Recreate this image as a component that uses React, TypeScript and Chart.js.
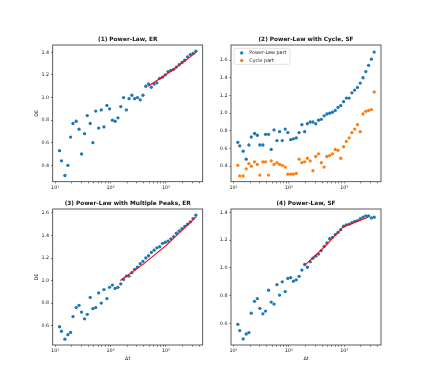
import React, { useEffect, useRef } from 'react';
import { Chart, registerables } from 'chart.js';

Chart.register(...registerables);

// ---------- data ----------
const dt = [
  12, 13, 15, 17, 19, 21, 24, 27, 30, 34,
  38, 43, 48, 54, 61, 68, 76, 86, 96, 108,
  121, 136, 153, 172, 193, 216, 243, 272, 306, 343,
  385, 433, 486, 545, 612, 687, 771, 866, 972, 1091,
  1225, 1374, 1542, 1732, 1944, 2182, 2449, 2749, 3086, 3467,
];

const p1DE = [
  0.53, 0.44, 0.31, 0.40, 0.65, 0.77, 0.79, 0.72, 0.50, 0.68,
  0.84, 0.77, 0.60, 0.88, 0.73, 0.89, 0.74, 0.93, 0.90, 0.80,
  0.79, 0.82, 0.92, 1.00, 0.89, 0.99, 1.02, 0.99, 1.00, 0.98,
  1.02, 1.10, 1.12, 1.09, 1.12, 1.13, 1.17, 1.18, 1.20, 1.23,
  1.24, 1.25, 1.27, 1.29, 1.31, 1.33, 1.36, 1.38, 1.39, 1.41,
];
const p1FitDt = [480, 1250, 3500];
const p1FitDE = [1.10, 1.235, 1.40];

const p2PowerLaw = [
  0.67, 0.63, 0.57, 0.48, 0.64, 0.73, 0.77, 0.75, 0.64, 0.64,
  0.76, 0.76, 0.59, 0.81, 0.69, 0.79, 0.69, 0.82, 0.78, 0.70,
  0.71, 0.72, 0.78, 0.87, 0.79, 0.88, 0.90, 0.90, 0.88, 0.92,
  0.93, 0.97, 0.99, 1.00, 1.01, 1.03, 1.065, 1.085, 1.13, 1.17,
  1.17, 1.23, 1.26, 1.29, 1.34, 1.40, 1.47, 1.54, 1.61, 1.69,
];
const p2Cycle = [
  0.41, 0.29, 0.29, 0.37, 0.43, 0.40, 0.45, 0.42, 0.30, 0.45,
  0.45, 0.30, 0.46, 0.42, 0.44, 0.42, 0.41, 0.39, 0.31, 0.31,
  0.31, 0.32, 0.48, 0.44, 0.45, 0.49, 0.46, 0.35, 0.51, 0.54,
  0.44, 0.39, 0.51, 0.52, 0.54, 0.59, 0.58, 0.49, 0.62, 0.68,
  0.72, 0.78, 0.82, 0.87, 0.79, 0.99, 1.02, 1.03, 1.04, 1.24,
];

const p3DE = [
  0.59, 0.55, 0.48, 0.52, 0.54, 0.68, 0.76, 0.78, 0.72, 0.66,
  0.70, 0.85, 0.75, 0.76, 0.89, 0.80, 0.92, 0.84, 0.94, 0.96,
  0.93, 0.94, 0.97, 1.01, 1.04, 1.04, 1.07, 1.10, 1.12, 1.15,
  1.17, 1.20, 1.22, 1.25, 1.27, 1.29, 1.30, 1.33, 1.34, 1.35,
  1.37, 1.39, 1.42, 1.44, 1.46, 1.48, 1.50, 1.52, 1.55, 1.58,
];
const p3FitDt = [150, 400, 1000, 3500];
const p3FitDE = [1.00, 1.15, 1.31, 1.565];

const p4DE = [
  0.595, 0.55, 0.49, 0.525, 0.535, 0.675, 0.76, 0.78, 0.71, 0.67,
  0.69, 0.84, 0.755, 0.74, 0.88, 0.805, 0.90, 0.83, 0.925, 0.93,
  0.905, 0.915, 0.94, 0.985, 1.025, 1.005, 1.045, 1.07, 1.085, 1.10,
  1.125, 1.155, 1.18, 1.21, 1.22, 1.24, 1.255, 1.275, 1.30, 1.31,
  1.315, 1.325, 1.335, 1.34, 1.355, 1.365, 1.375, 1.375, 1.36, 1.365,
];
const p4FitDt = [194, 450, 950, 2700];
const p4FitDE = [1.02, 1.155, 1.295, 1.365];

const xTickValues = [
  10, 20, 30, 40, 50, 60, 70, 80, 90,
  100, 200, 300, 400, 500, 600, 700, 800, 900,
  1000, 2000, 3000, 4000,
];
const xMajorValues = [10, 100, 1000];
const xMajorLabels = ['10¹', '10²', '10³'];

const yTicks1 = [0.4, 0.6, 0.8, 1.0, 1.2, 1.4];
const yTicks2 = [0.4, 0.6, 0.8, 1.0, 1.2, 1.4, 1.6];
const yTicks3 = [0.6, 0.8, 1.0, 1.2, 1.4, 1.6];
const yTicks4 = [0.6, 0.8, 1.0, 1.2, 1.4];

const titles = [
  '(1) Power-Law, ER',
  '(2) Power-Law with Cycle, SF',
  '(3) Power-Law with Multiple Peaks, ER',
  '(4) Power-Law, SF',
];
const seriesLabels = ['Power-Law part', 'Cycle part'];

// ---------- style ----------
const FONT = 'DejaVu Sans';
const BLUE = '#1f77b4';
const ORANGE = '#ff7f0e';
const RED = '#ff0000';
const TEXT = '#222222';
const X_MIN = 9.04;
const X_MAX = 4605;
const MARKER_R = 1.65;

const pts = (xs: number[], ys: number[]) => xs.map((x, i) => ({ x, y: ys[i] }));

const scatterSet = (label: string, ys: number[], color: string) => ({
  label,
  data: pts(dt, ys),
  backgroundColor: color,
  borderColor: color,
  pointRadius: MARKER_R,
  pointBorderWidth: 0,
  showLine: false,
  order: 1,
});

const fitSet = (xs: number[], ys: number[]) => ({
  label: 'fit',
  data: pts(xs, ys),
  borderColor: RED,
  backgroundColor: RED,
  borderWidth: 1.1,
  pointRadius: 0,
  showLine: true,
  fill: false,
  tension: 0,
  order: 0,
});

const framePlugin = {
  id: 'frame',
  afterDraw(chart: any) {
    const { ctx, chartArea } = chart;
    const { left, top, right, bottom } = chartArea;
    ctx.save();
    ctx.strokeStyle = '#333333';
    ctx.lineWidth = 0.8;
    ctx.strokeRect(left, top, right - left, bottom - top);
    ctx.restore();
  },
};

const insideLegendPlugin = {
  id: 'insideLegend',
  afterDatasetsDraw(chart: any, _args: any, opts: any) {
    if (!opts || !opts.display) return;
    const { ctx, chartArea } = chart;
    const x0 = chartArea.left + 3;
    const y0 = chartArea.top + 3.3;
    const w = 56;
    const h = 16;
    const r = 1.5;
    ctx.save();
    ctx.beginPath();
    ctx.moveTo(x0 + r, y0);
    ctx.lineTo(x0 + w - r, y0);
    ctx.arcTo(x0 + w, y0, x0 + w, y0 + r, r);
    ctx.lineTo(x0 + w, y0 + h - r);
    ctx.arcTo(x0 + w, y0 + h, x0 + w - r, y0 + h, r);
    ctx.lineTo(x0 + r, y0 + h);
    ctx.arcTo(x0, y0 + h, x0, y0 + h - r, r);
    ctx.lineTo(x0, y0 + r);
    ctx.arcTo(x0, y0, x0 + r, y0, r);
    ctx.closePath();
    ctx.fillStyle = 'rgba(255,255,255,0.8)';
    ctx.fill();
    ctx.strokeStyle = '#cccccc';
    ctx.lineWidth = 0.6;
    ctx.stroke();
    chart.data.datasets.forEach((ds: any, i: number) => {
      const cy = y0 + 4.6 + i * 7.6;
      ctx.fillStyle = ds.backgroundColor;
      ctx.beginPath();
      ctx.arc(x0 + 7.7, cy, MARKER_R, 0, Math.PI * 2);
      ctx.fill();
      ctx.fillStyle = TEXT;
      ctx.font = `4.85px "${FONT}"`;
      ctx.textBaseline = 'middle';
      ctx.textAlign = 'left';
      ctx.fillText(ds.label, x0 + 15.3, cy);
    });
    ctx.restore();
  },
};

type PanelSpec = {
  title: string;
  left: number;
  top: number;
  width: number;
  height: number;
  yWidth: number;
  padRight: number;
  padBottom: number;
  yMin: number;
  yMax: number;
  yTicks: number[];
  yTitle: boolean;
  xTitle: boolean;
  legend: boolean;
  datasets: any[];
};

const gridOpts = {
  display: true,
  drawOnChartArea: false,
  drawTicks: true,
  tickLength: 1.7,
  tickColor: '#333333',
  tickWidth: 0.6,
};

function buildConfig(p: PanelSpec): any {
  return {
    type: 'scatter',
    data: { datasets: p.datasets },
    options: {
      animation: false,
      responsive: false,
      devicePixelRatio: 1,
      events: [],
      layout: { padding: { left: 0, top: 0, right: p.padRight, bottom: p.padBottom } },
      plugins: {
        legend: { display: false },
        tooltip: { enabled: false },
        title: {
          display: true,
          text: p.title,
          fullSize: false,
          color: '#111111',
          font: { family: FONT, size: 5.8, weight: 'bold' },
          padding: { top: 10.22, bottom: 1.82 },
        },
        insideLegend: { display: p.legend },
      },
      scales: {
        x: {
          type: 'logarithmic',
          min: X_MIN,
          max: X_MAX,
          bounds: 'data',
          afterFit: (s: any) => {
            s.height = 20;
          },
          afterBuildTicks: (s: any) => {
            s.ticks = xTickValues.map((v) => ({ value: v }));
          },
          ticks: {
            autoSkip: false,
            maxRotation: 0,
            minRotation: 0,
            padding: 1.3,
            color: TEXT,
            font: { family: FONT, size: 4.85 },
            callback: (v: any) => {
              const i = xMajorValues.indexOf(Number(v));
              return i >= 0 ? xMajorLabels[i] : '';
            },
          },
          grid: gridOpts,
          border: { display: false },
          title: {
            display: p.xTitle,
            text: 'Δt',
            color: TEXT,
            font: { family: FONT, size: 4.85 },
            padding: { top: 0, bottom: 3.3 },
          },
        },
        y: {
          type: 'linear',
          min: p.yMin,
          max: p.yMax,
          bounds: 'data',
          afterFit: (s: any) => {
            s.width = p.yWidth;
          },
          afterBuildTicks: (s: any) => {
            s.ticks = p.yTicks.map((v) => ({ value: v }));
          },
          ticks: {
            autoSkip: false,
            padding: 1.8,
            color: TEXT,
            font: { family: FONT, size: 4.85 },
            callback: (v: any) => Number(v).toFixed(1),
          },
          grid: gridOpts,
          border: { display: false },
          title: {
            display: p.yTitle,
            text: 'DE',
            color: TEXT,
            font: { family: FONT, size: 4.85 },
            padding: { top: 10.3, bottom: 0 },
          },
        },
      },
    },
    plugins: [framePlugin, insideLegendPlugin],
  };
}

const panels: PanelSpec[] = [
  {
    title: titles[0], left: 24, top: 26, width: 188, height: 178,
    yWidth: 28.7, padRight: 9.3, padBottom: 2.3,
    yMin: 0.255, yMax: 1.465, yTicks: yTicks1,
    yTitle: true, xTitle: false, legend: false,
    datasets: [fitSet(p1FitDt, p1FitDE), scatterSet('DE', p1DE, BLUE)],
  },
  {
    title: titles[1], left: 203, top: 26, width: 187, height: 178,
    yWidth: 28, padRight: 9, padBottom: 2.3,
    yMin: 0.225, yMax: 1.77, yTicks: yTicks2,
    yTitle: false, xTitle: false, legend: true,
    datasets: [scatterSet(seriesLabels[0], p2PowerLaw, BLUE), scatterSet(seriesLabels[1], p2Cycle, ORANGE)],
  },
  {
    title: titles[2], left: 24, top: 190, width: 188, height: 178,
    yWidth: 28.7, padRight: 9.3, padBottom: 3,
    yMin: 0.428, yMax: 1.635, yTicks: yTicks3,
    yTitle: true, xTitle: true, legend: false,
    datasets: [fitSet(p3FitDt, p3FitDE), scatterSet('DE', p3DE, BLUE)],
  },
  {
    title: titles[3], left: 203, top: 190, width: 187, height: 178,
    yWidth: 28, padRight: 9, padBottom: 3,
    yMin: 0.446, yMax: 1.424, yTicks: yTicks4,
    yTitle: false, xTitle: true, legend: false,
    datasets: [fitSet(p4FitDt, p4FitDE), scatterSet('DE', p4DE, BLUE)],
  },
];

function Panel({ spec }: { spec: PanelSpec }) {
  const ref = useRef<HTMLCanvasElement>(null);
  useEffect(() => {
    if (!ref.current) return;
    const chart = new Chart(ref.current, buildConfig(spec));
    return () => chart.destroy();
  }, [spec]);
  return (
    <canvas
      ref={ref}
      width={spec.width}
      height={spec.height}
      style={{
        position: 'absolute',
        left: spec.left,
        top: spec.top,
        width: spec.width,
        height: spec.height,
      }}
    />
  );
}

export default function App() {
  return (
    <div
      style={{
        position: 'absolute',
        left: 0,
        top: 0,
        width: 424,
        height: 388,
        background: '#ffffff',
        overflow: 'hidden',
      }}
    >
      {panels.map((p, i) => (
        <Panel key={i} spec={p} />
      ))}
    </div>
  );
}
